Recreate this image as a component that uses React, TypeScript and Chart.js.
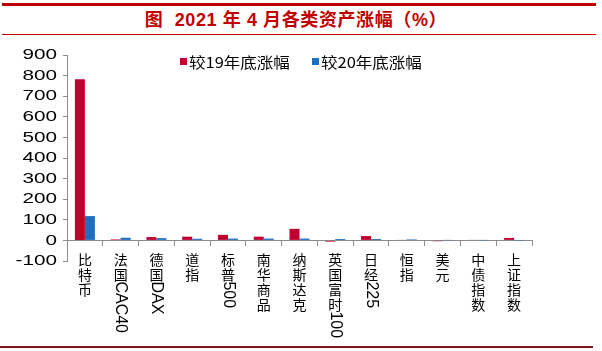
import React, { useEffect, useRef } from "react";
import { Chart, registerables } from "chart.js";

Chart.register(...registerables);

const titleText = "图  2021 年 4 月各类资产涨幅（%）";
const categories = [
  "比特币",
  "法国CAC40",
  "德国DAX",
  "道指",
  "标普500",
  "南华商品",
  "纳斯达克",
  "英国富时100",
  "日经225",
  "恒指",
  "美元",
  "中债指数",
  "上证指数",
];
const seriesNames = ["较19年底涨幅", "较20年底涨幅"];
const since2019 = [782, 5, 16, 18, 27, 18, 56, -6, 21, 2, -4, 2, 12];
const since2020 = [118, 13, 11, 8, 9, 9, 9, 7, 7, 5, 1, 1, -1];
const yMin = -100;
const yMax = 900;
const yStep = 100;

const RED = "#C0002F";
const BLUE = "#1F6FC0";
const AXIS = "#8c8c8c";

const customPlugin = {
  id: "customLabels",
  afterDraw(chart: any) {
    const ctx = chart.ctx as CanvasRenderingContext2D;
    const xs = chart.scales.x;
    const ys = chart.scales.y;
    const area = chart.chartArea;
    ctx.save();
    ctx.fillStyle = "#000";

    ctx.font = "15px 'Liberation Sans', Arial, sans-serif";
    ctx.textAlign = "right";
    ctx.textBaseline = "middle";
    ys.ticks.forEach((t: any) => {
      const py = ys.getPixelForValue(t.value);
      ctx.save();
      ctx.translate(area.left - 10, py);
      ctx.scale(1.38, 1);
      ctx.fillText(String(t.value), 0, 0);
      ctx.restore();
    });

    const zeroY = ys.getPixelForValue(0);
    categories.forEach((lab, i) => {
      const px = xs.getPixelForValue(i);
      let py = zeroY + 12;
      const parts = lab.match(/[A-Za-z0-9]+|./g) || [];
      parts.forEach((seg) => {
        if (/^[A-Za-z0-9]+$/.test(seg)) {
          ctx.font = "16px 'Liberation Sans', Arial, sans-serif";
          const w = ctx.measureText(seg).width;
          ctx.save();
          ctx.translate(px, py - 1);
          ctx.rotate(Math.PI / 2);
          ctx.textAlign = "left";
          ctx.textBaseline = "middle";
          ctx.fillText(seg, 0, 0);
          ctx.restore();
          py += w;
        } else {
          ctx.font = "14px 'Noto Sans CJK SC', sans-serif";
          ctx.textAlign = "center";
          ctx.textBaseline = "middle";
          ctx.fillText(seg, px, py + 7.5);
          py += 15;
        }
      });
    });

    const legendItems = [
      { x: area.left + 113, label: seriesNames[0], color: chart.data.datasets[0].backgroundColor },
      { x: area.left + 245, label: seriesNames[1], color: chart.data.datasets[1].backgroundColor },
    ];
    legendItems.forEach((it) => {
      ctx.fillStyle = it.color;
      ctx.fillRect(it.x, area.top + 3, 7, 7);
      ctx.fillStyle = "#000";
      ctx.font = "15px 'Noto Sans CJK SC', sans-serif";
      ctx.textAlign = "left";
      ctx.textBaseline = "middle";
      ctx.save();
      ctx.translate(it.x + 9, area.top + 7);
      ctx.scale(1.1, 1);
      ctx.fillText(it.label, 0, 0);
      ctx.restore();
    });
    ctx.restore();
  },
};

export default function App() {
  const canvasRef = useRef<HTMLCanvasElement | null>(null);

  useEffect(() => {
    if (!canvasRef.current) return;
    const chart = new Chart(canvasRef.current, {
      type: "bar",
      data: {
        labels: categories,
        datasets: [
          {
            label: seriesNames[0],
            data: since2019,
            backgroundColor: RED,
            categoryPercentage: 0.56,
            barPercentage: 1.0,
          },
          {
            label: seriesNames[1],
            data: since2020,
            backgroundColor: BLUE,
            categoryPercentage: 0.56,
            barPercentage: 1.0,
          },
        ],
      },
      options: {
        animation: false,
        responsive: false,
        devicePixelRatio: 1,
        layout: { padding: { left: 67, right: 70, top: 55, bottom: 90 } },
        plugins: {
          legend: { display: false },
          title: { display: false },
          tooltip: { enabled: false },
        },
        scales: {
          x: {
            type: "category",
            position: { y: 0 } as any,
            offset: true,
            ticks: { display: false },
            grid: {
              drawOnChartArea: false,
              drawTicks: true,
              tickLength: 5,
              color: AXIS,
              offset: true,
            },
            border: { display: true, color: AXIS, width: 1 },
          },
          y: {
            position: "left",
            min: yMin,
            max: yMax,
            ticks: { display: false, stepSize: yStep },
            grid: {
              drawOnChartArea: false,
              drawTicks: true,
              tickLength: 4,
              color: AXIS,
            },
            border: { display: true, color: AXIS, width: 1 },
            afterFit: (s: any) => {
              s.width = 0;
            },
          },
        },
      },
      plugins: [customPlugin],
    });
    return () => chart.destroy();
  }, []);

  return (
    <div
      style={{
        position: "fixed",
        left: 0,
        top: 0,
        width: 602,
        height: 351,
        background: "#fff",
        overflow: "hidden",
      }}
    >
      <div style={{ position: "absolute", left: 2, top: 3, width: 594, height: 3, background: "#C00000" }} />
      <div
        style={{
          position: "absolute",
          left: 0,
          top: 7,
          width: 592,
          height: 26,
          lineHeight: "26px",
          textAlign: "center",
          color: "#C00000",
          fontWeight: "bold",
          fontSize: 18,
          letterSpacing: "0.6px",
          fontFamily: "'Liberation Sans', Arial, 'Noto Sans CJK SC', sans-serif",
          whiteSpace: "pre",
        }}
      >
        {titleText}
      </div>
      <div style={{ position: "absolute", left: 2, top: 34, width: 594, height: 1, background: "#C00000" }} />
      <canvas
        ref={canvasRef}
        width={602}
        height={351}
        style={{ position: "absolute", left: 0, top: 0, width: 602, height: 351 }}
      />
      <div style={{ position: "absolute", left: 0, top: 346, width: 593, height: 2, background: "#7A1518" }} />
    </div>
  );
}
